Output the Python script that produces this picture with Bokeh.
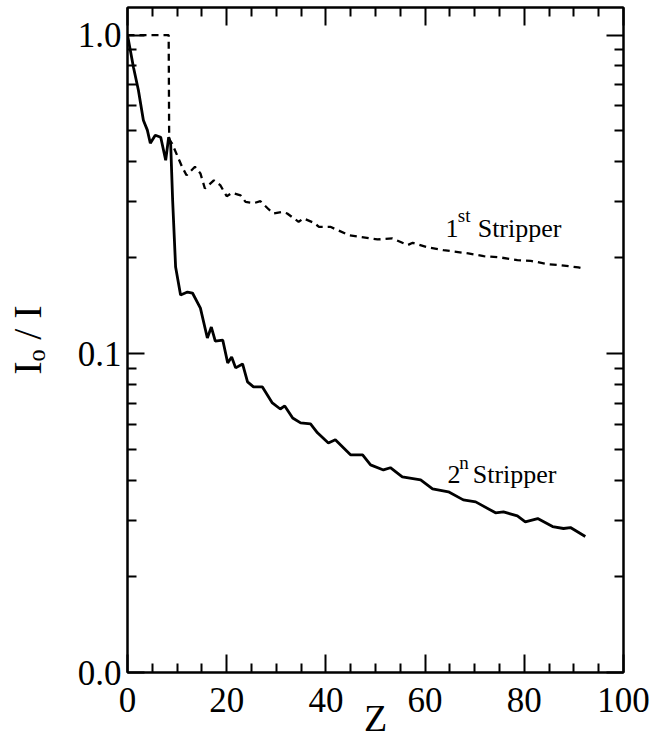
from bokeh.plotting import figure
from bokeh.models import FixedTicker, CustomJSTickFormatter, LinearAxis, LogAxis, Label
from bokeh.embed import file_html
from bokeh.resources import INLINE

# ---- data ----
z_first = [0, 8.3, 8.4, 9.0, 11.0, 11.9, 13.6, 14.7, 15.6, 17.4, 18.7, 20.0, 21.1, 22.8, 23.8,
           25.5, 26.8, 28.5, 29.5, 31.2, 32.2, 34.5, 35.5, 37.6, 38.6, 40.9, 44.6, 50.4,
           53.4, 56.5, 57.5, 60.5, 63.7, 68.7, 71.8, 75.2, 78.6, 81.3, 84.7, 87.3, 90.9, 92.0]
ratio_first = [1.0, 1.0, 0.47, 0.456, 0.386, 0.363, 0.386, 0.368, 0.330, 0.350, 0.338, 0.312,
               0.320, 0.314, 0.2995, 0.297, 0.301, 0.2836, 0.2755, 0.2787, 0.2755, 0.2594,
               0.2658, 0.2575, 0.2502, 0.2502, 0.2356, 0.2284, 0.230, 0.2193, 0.2229, 0.2157,
               0.2114, 0.2064, 0.2024, 0.2005, 0.1967, 0.1957, 0.1911, 0.1897, 0.1866, 0.185]

z_second = [0, 1.2, 2.2, 3.2, 4.0, 4.6, 5.6, 6.7, 7.7, 8.3, 8.7, 9.1, 9.7, 10.7, 12.1, 13.1,
            14.7, 16.1, 16.9, 17.7, 19.2, 20.2, 21.0, 21.8, 23.2, 24.2, 25.4, 27.2, 29.2,
            30.8, 31.7, 33.3, 34.9, 36.9, 38.3, 40.5, 41.9, 44.96, 47.4, 49.0, 51.6, 53.0,
            55.4, 59.1, 61.5, 64.7, 67.7, 70.2, 74.2, 75.8, 78.6, 80.2, 82.7, 85.7, 87.9,
            89.3, 92.3]
ratio_second = [1.0, 0.792, 0.671, 0.540, 0.503, 0.4575, 0.4847, 0.4777, 0.4046, 0.4777,
                0.4575, 0.303, 0.187, 0.1528, 0.1562, 0.1551, 0.1391, 0.1121, 0.1213, 0.1096,
                0.1104, 0.0936, 0.0977, 0.0903, 0.0929, 0.0816, 0.0787, 0.0787, 0.0701,
                0.0671, 0.0686, 0.0629, 0.0607, 0.0603, 0.0565, 0.0525, 0.0537, 0.0482,
                0.0482, 0.0448, 0.0432, 0.0439, 0.0411, 0.0402, 0.0377, 0.0369, 0.0348,
                0.0343, 0.0317, 0.0319, 0.0310, 0.0297, 0.0304, 0.0287, 0.0283, 0.0285, 0.0267]

x_major = [0, 20, 40, 60, 80, 100]
x_minor = [5, 10, 15, 25, 30, 35, 45, 50, 55, 65, 70, 75, 85, 90, 95]
y_major = [0.01, 0.1, 1.0]
y_minor = [0.02, 0.03, 0.04, 0.05, 0.06, 0.07, 0.08, 0.09,
           0.2, 0.3, 0.4, 0.5, 0.6, 0.7, 0.8, 0.9]

FONT = "Liberation Serif"

p = figure(width=661, height=748, x_range=(0, 100), y_range=(0.01, 1.22),
           y_axis_type="log", output_backend="svg", toolbar_location=None,
           min_border_left=127, min_border_right=38, min_border_top=7, min_border_bottom=76)
p.xgrid.visible = False
p.ygrid.visible = False
p.outline_line_color = "black"
p.outline_line_width = 2
p.background_fill_color = "white"
p.border_fill_color = "white"

def style(ax, tick_in, minor_in):
    ax.major_tick_in = tick_in
    ax.major_tick_out = 0
    ax.minor_tick_in = minor_in
    ax.minor_tick_out = 0
    ax.axis_line_width = 2
    ax.axis_line_color = "black"
    ax.major_tick_line_width = 2
    ax.minor_tick_line_width = 2
    ax.major_tick_line_color = "black"
    ax.minor_tick_line_color = "black"
    ax.major_label_text_font = FONT
    ax.major_label_text_color = "black"
    ax.major_label_text_font_size = "35px"
    ax.axis_label_text_font = FONT
    ax.axis_label_text_font_style = "normal"
    ax.axis_label_text_color = "black"

xt = FixedTicker(ticks=x_major, minor_ticks=x_minor)
yt = FixedTicker(ticks=y_major, minor_ticks=y_minor)

xa = p.xaxis[0]
xa.ticker = xt
style(xa, 18, 9)
xa.major_label_standoff = 15
xa.axis_label = "Z"
xa.axis_label_text_font_size = "38px"
xa.axis_label_standoff = -18

ya = p.yaxis[0]
ya.ticker = yt
ya.formatter = CustomJSTickFormatter(code="return tick.toFixed(1);")
style(ya, 17, 9)
ya.major_label_standoff = 6
ya.axis_label = "I\u2092 / I"
ya.axis_label_text_font_size = "40px"
ya.axis_label_standoff = 25

# mirrored tick axes (no labels)
top = LinearAxis(ticker=FixedTicker(ticks=x_major, minor_ticks=x_minor))
style(top, 18, 9)
top.major_label_text_font_size = "1px"
top.major_label_standoff = 0
top.formatter = CustomJSTickFormatter(code="return '';")
p.add_layout(top, "above")

right = LogAxis(ticker=FixedTicker(ticks=y_major, minor_ticks=y_minor))
style(right, 17, 9)
right.major_label_text_font_size = "1px"
right.major_label_standoff = 0
right.formatter = CustomJSTickFormatter(code="return '';")
p.add_layout(right, "right")

p.line(z_first, ratio_first, line_color="black", line_width=2.3, line_dash="7 5")
p.line(z_second, ratio_second, line_color="black", line_width=2.8)

def lab(text, x, y, size):
    p.add_layout(Label(x=x, y=y, text=text, text_font=FONT, text_font_size=size,
                       text_color="black", text_align="left", text_baseline="alphabetic"))

# curve annotations
lab("1", 64.1, 0.248, "26px")
lab("st", 66.6, 0.272, "19px")
lab("Stripper", 70.6, 0.248, "26px")
lab("2", 64.5, 0.0417, "26px")
lab("n", 66.9, 0.0455, "19px")
lab("Stripper", 69.6, 0.0417, "26px")

open("out.html", "w").write(file_html(p, INLINE))
